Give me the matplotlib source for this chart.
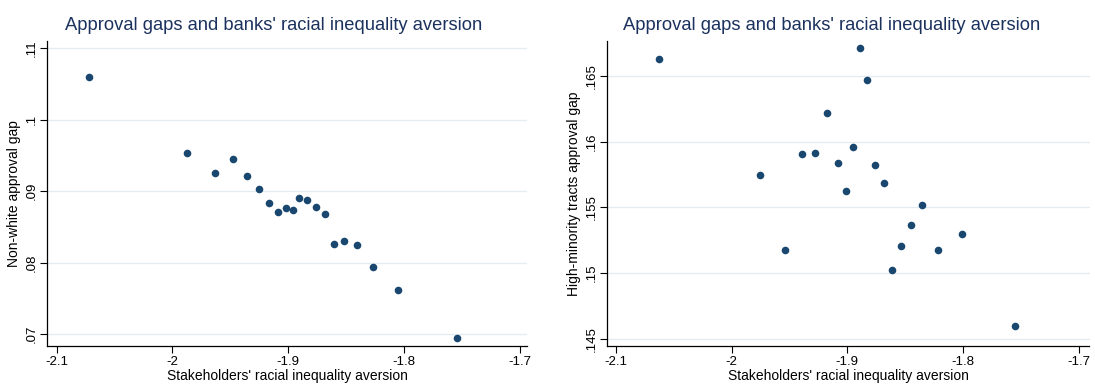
import matplotlib.pyplot as plt
from matplotlib.ticker import FixedLocator, FixedFormatter

plt.rcParams['font.family'] = ['Liberation Sans', 'DejaVu Sans']

# Stakeholders' racial inequality aversion vs approval gaps (bank-level bins)
aversion_nw = [-2.0725, -1.9873, -1.9631, -1.9474, -1.9356, -1.9254, -1.9166,
               -1.9088, -1.9018, -1.8961, -1.8909, -1.8837, -1.8761, -1.8686,
               -1.8604, -1.8517, -1.8411, -1.8272, -1.8054, -1.7541]
gap_nw = [.1060, .0953, .0925, .0945, .0922, .0903, .0883,
          .0871, .0877, .0874, .0891, .0887, .0878, .0868,
          .0826, .0830, .0824, .0794, .0761, .0694]

aversion_hm = [-2.0627, -1.8891, -1.8830, -1.9176, -1.8948, -1.9391, -1.9276,
               -1.9085, -1.8758, -1.9758, -1.8685, -1.9015, -1.8352, -1.8448,
               -1.8009, -1.8536, -1.9542, -1.8221, -1.8612, -1.7555]
gap_hm = [.16628, .16709, .16467, .16219, .15959, .15908, .15911,
          .15839, .15821, .15747, .15684, .15628, .15519, .15366,
          .15300, .15209, .15178, .15178, .15023, .14600]

x_ticks = [-2.1, -2.0, -1.9, -1.8, -1.7]
x_labels = ['-2.1', '-2', '-1.9', '-1.8', '-1.7']
y_ticks_nw = [.07, .08, .09, .10, .11]
y_labels_nw = ['.07', '.08', '.09', '.1', '.11']
y_ticks_hm = [.145, .150, .155, .160, .165]
y_labels_hm = ['.145', '.15', '.155', '.16', '.165']

title = "Approval gaps and banks' racial inequality aversion"
xlabel = "Stakeholders' racial inequality aversion"

W, H = 1095, 391
fig = plt.figure(figsize=(W / 100, H / 100), dpi=100)
fig.patch.set_facecolor('white')

navy = '#1a476f'
grid_col = '#e3edf0'


def panel(px0, px1, xlim, ylim, x, y, yt, yl, ylab, title_x):
    ax = fig.add_axes([px0 / W, (H - 346) / H, (px1 - px0) / W, 305 / H])
    ax.scatter(x, y, s=30, color=navy, linewidths=0, zorder=3)
    ax.set_xlim(*xlim)
    ax.set_ylim(*ylim)
    ax.xaxis.set_major_locator(FixedLocator(x_ticks))
    ax.xaxis.set_major_formatter(FixedFormatter(x_labels))
    ax.yaxis.set_major_locator(FixedLocator(yt))
    ax.yaxis.set_major_formatter(FixedFormatter(yl))
    for lab in ax.get_yticklabels():
        lab.set_rotation(90)
        lab.set_va('center')
    ax.tick_params(axis='both', length=5, width=0.8, color='black',
                   labelsize=9.5, pad=2)
    ax.grid(axis='y', color=grid_col, linewidth=1.0, zorder=0)
    for s in ('top', 'right'):
        ax.spines[s].set_visible(False)
    for s in ('left', 'bottom'):
        ax.spines[s].set_linewidth(0.9)
        ax.spines[s].set_color('black')
    ax.set_xlabel(xlabel, fontsize=10, labelpad=1)
    ax.set_ylabel(ylab, fontsize=10, labelpad=3)
    fig.text(title_x / W, 1 - 26 / H, title, ha='center', va='center',
             fontsize=13.2, color='#1c325e')
    return ax


panel(47.3, 527.0, (-2.1081, -1.6939), (.06832, .11104),
      aversion_nw, gap_nw, y_ticks_nw, y_labels_nw,
      'Non-white approval gap', 274)
panel(607.3, 1089.5, (-2.1073, -1.6909), (.14447, .16765),
      aversion_hm, gap_hm, y_ticks_hm, y_labels_hm,
      'High-minority tracts approval gap', 832)

fig.savefig('out.png', dpi=100)
